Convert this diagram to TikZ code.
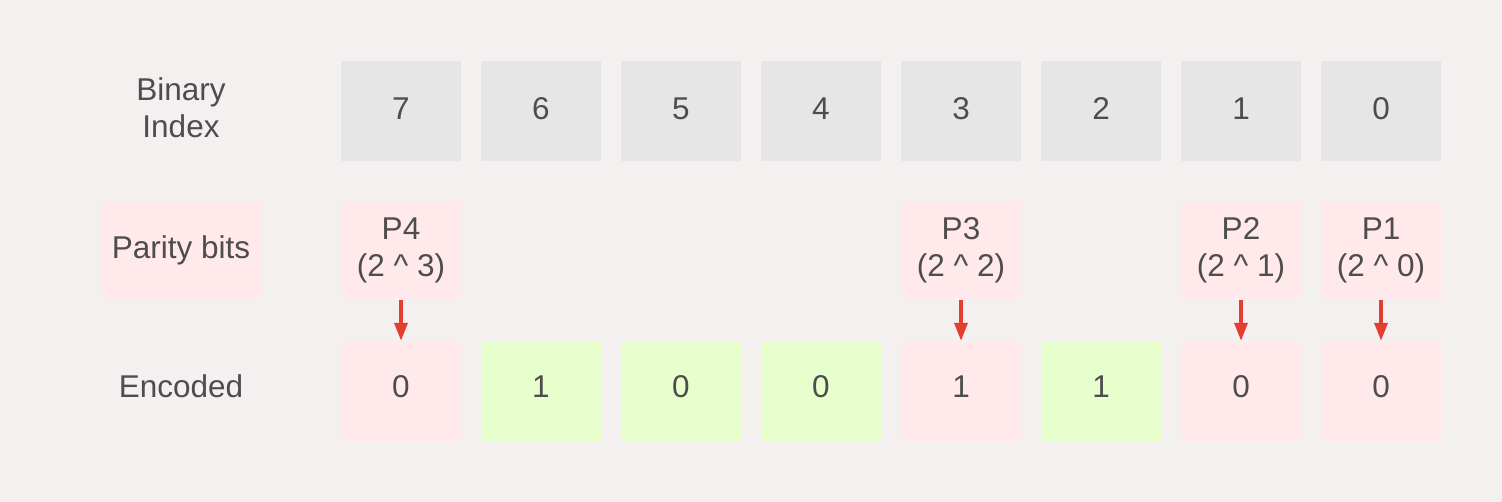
\documentclass[tikz,border=0pt]{standalone}
\usepackage{fontspec}
\setmainfont{Liberation Sans}
\usetikzlibrary{arrows.meta}
\definecolor{bg}{HTML}{F4F0EF}
\definecolor{graybox}{HTML}{E6E6E6}
\definecolor{pinkbox}{HTML}{FFE9EB}
\definecolor{greenbox}{HTML}{E6FFCC}
\definecolor{txt}{HTML}{4D4D4D}
\definecolor{arr}{HTML}{E53D30}
\tikzset{
  cell/.style={minimum width=120pt, minimum height=100pt, inner sep=0pt, text=txt, font=\fontsize{31.5}{37}\selectfont, align=center},
  idxcell/.style={cell, text height=22.5pt, text depth=6pt, fill=graybox},
  parcell/.style={cell, fill=pinkbox, minimum height=98pt},
  pinkcell/.style={cell, text height=22.5pt, text depth=9pt, fill=pinkbox},
  datacell/.style={cell, text height=22.5pt, text depth=9pt, fill=greenbox},
  lbl/.style={text=txt, font=\fontsize{31.5}{37}\selectfont, align=center, inner sep=0pt},
  redarrow/.style={draw=arr, line width=3.5pt, -{Triangle[width=13pt,length=18pt]}}
}
\begin{document}
\begin{tikzpicture}[x=1pt,y=-1pt]
\useasboundingbox (0,0) rectangle (1502,502);
\fill[bg] (0,0) rectangle (1502,502);
% labels
\node[lbl] (lidx) at (181,108) {Binary\\Index};
\node[cell, fill=pinkbox, minimum width=160pt, minimum height=98pt] (lpar) at (181,250.5) {Parity bits};
\node[lbl, text height=22.5pt, text depth=0pt] (lenc) at (181,386) {Encoded};
% index row
\foreach \i/\v in {0/7,1/6,2/5,3/4,4/3,5/2,6/1,7/0} {
  \node[idxcell] (idx\i) at (401+140*\i,111) {\v};
}
% parity row
\node[parcell] (par0) at (401,250.5) {P4\\(2 \^{} 3)};
\node[parcell] (par4) at (961,250.5) {P3\\(2 \^{} 2)};
\node[parcell] (par6) at (1241,250.5) {P2\\(2 \^{} 1)};
\node[parcell] (par7) at (1381,250.5) {P1\\(2 \^{} 0)};
% encoded row
\node[pinkcell] (enc0) at (401,391) {0};
\node[datacell] (enc1) at (541,391) {1};
\node[datacell] (enc2) at (681,391) {0};
\node[datacell] (enc3) at (821,391) {0};
\node[pinkcell] (enc4) at (961,391) {1};
\node[datacell] (enc5) at (1101,391) {1};
\node[pinkcell] (enc6) at (1241,391) {0};
\node[pinkcell] (enc7) at (1381,391) {0};
% arrows
\foreach \i in {0,4,6,7} {
  \draw[redarrow] (par\i.south) -- (enc\i.north);
}
\end{tikzpicture}
\end{document}
